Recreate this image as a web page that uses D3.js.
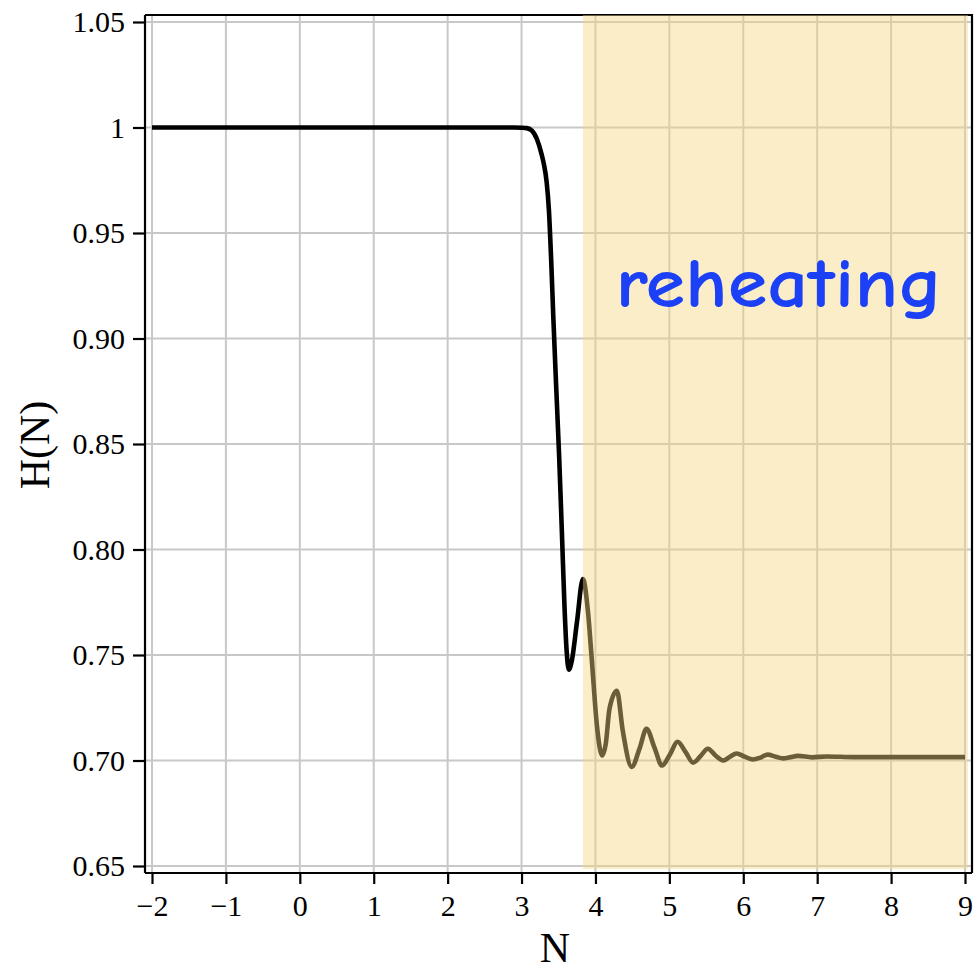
<!DOCTYPE html>
<html>
<head>
	<title>H(N) reheating</title>
	<script type="text/javascript" src="https://cdn.jsdelivr.net/npm/d3@7"></script>
	<style type="text/css">
		body { margin: 0; background: white; }
		.chart text { font-family: "Liberation Serif", "Times New Roman", serif; }
	</style>
</head>
<body>

	<svg width=977 height=971 class="chart"></svg>

	<script type="text/javascript">

		// curve
		N_vals = [-2, 2.9, 3.0, 3.07, 3.14, 3.21, 3.27, 3.30, 3.34, 3.37, 3.40, 3.43, 3.47, 3.51, 3.55, 3.58, 3.61, 3.64,
			3.68, 3.75, 3.83, 3.90, 3.95, 4.02, 4.09, 4.14, 4.19, 4.29, 4.37, 4.49, 4.60, 4.69, 4.80, 4.90,
			5.01, 5.11, 5.22, 5.32, 5.42, 5.52, 5.62, 5.73, 5.82, 5.91, 6.02, 6.13, 6.24, 6.33, 6.44, 6.54,
			6.63, 6.74, 6.93, 7.13, 7.5, 8, 9]
		H_vals = [1, 1, 0.9999, 0.9997, 0.9985, 0.9943, 0.9875, 0.983, 0.974, 0.961, 0.938, 0.910, 0.876, 0.843, 0.804, 0.774, 0.752, 0.743,
			0.7473, 0.7657, 0.786, 0.770, 0.748, 0.7165, 0.7023, 0.708, 0.7245, 0.733, 0.714, 0.697, 0.706, 0.715, 0.706, 0.6976,
			0.703, 0.7089, 0.704, 0.699, 0.702, 0.7056, 0.7025, 0.700, 0.7018, 0.7033, 0.7018, 0.7005, 0.7015, 0.7028, 0.7018, 0.701,
			0.7015, 0.7022, 0.7015, 0.7019, 0.7016, 0.7016, 0.7016]

		x_ticks = [-2, -1, 0, 1, 2, 3, 4, 5, 6, 7, 8, 9]
		x_tick_labels = ['\u22122', '\u22121', '0', '1', '2', '3', '4', '5', '6', '7', '8', '9']
		y_ticks = [0.65, 0.70, 0.75, 0.80, 0.85, 0.90, 0.95, 1.00, 1.05]
		y_tick_labels = ['0.65', '0.70', '0.75', '0.80', '0.85', '0.90', '0.95', '1', '1.05']

		shade_N = [3.83, 9.04]
		shade_H = [0.6486, 1.0533]
		shade_label = 'reheating'

		svg = d3.select('.chart')

		x = d3.scaleLinear().domain([-2, 9]).range([152, 965])
		y = d3.scaleLinear().domain([0.65, 1.05]).range([866, 22])

		frame = {left: 145, right: 972, top: 15, bottom: 873}

		// grid
		var grid = svg.append('g')
		grid.selectAll('.vg')
			.data(x_ticks).enter()
			.append('line')
			.attr('x1', d => x(d)).attr('x2', d => x(d))
			.attr('y1', frame.top).attr('y2', frame.bottom)
			.attr('stroke', '#c8c8c8').attr('stroke-width', 2)
		grid.selectAll('.hg')
			.data(y_ticks).enter()
			.append('line')
			.attr('y1', d => y(d)).attr('y2', d => y(d))
			.attr('x1', frame.left).attr('x2', frame.right)
			.attr('stroke', '#c8c8c8').attr('stroke-width', 2)

		// frame top + right
		svg.append('path')
			.attr('d', 'M' + frame.left + ',' + frame.top + 'H' + frame.right + 'V' + frame.bottom)
			.attr('fill', 'none').attr('stroke', 'black').attr('stroke-width', 2.2)

		// the curve
		var line = d3.line()
			.x(d => x(d[0]))
			.y(d => y(d[1]))
			.curve(d3.curveMonotoneX)

		svg.append('path')
			.datum(d3.zip(N_vals, H_vals))
			.attr('d', line)
			.attr('fill', 'none')
			.attr('stroke', 'black')
			.attr('stroke-width', 4.6)
			.attr('stroke-linejoin', 'round')

		// reheating band, drawn on top
		svg.append('rect')
			.attr('x', x(shade_N[0]))
			.attr('width', x(shade_N[1]) - x(shade_N[0]))
			.attr('y', y(shade_H[1]))
			.attr('height', y(shade_H[0]) - y(shade_H[1]))
			.attr('fill', 'rgb(246,214,129)')
			.attr('fill-opacity', 0.435)

		svg.append('text')
			.attr('x', x(4.27))
			.attr('y', y(0.915))
			.attr('textLength', 327)
			.attr('lengthAdjust', 'spacingAndGlyphs')
			.style('font-family', '"Comic Sans MS", "Comic Neue", Lato, sans-serif')
			.style('font-size', '70px')
			.style('font-weight', 'bold')
			.attr('fill', '#1b40f5')
			.text(shade_label)

		// axes
		var xAxis = d3.axisBottom(x)
			.tickValues(x_ticks)
			.tickFormat((d, i) => x_tick_labels[i])
			.tickSize(11).tickSizeOuter(0).tickPadding(9)
		var gx = svg.append('g')
			.attr('transform', 'translate(0,' + frame.bottom + ')')
			.call(xAxis)
		gx.select('.domain').attr('d', 'M' + frame.left + ',0H' + frame.right)

		var yAxis = d3.axisLeft(y)
			.tickValues(y_ticks)
			.tickFormat((d, i) => y_tick_labels[i])
			.tickSize(12).tickSizeOuter(0).tickPadding(8)
		var gy = svg.append('g')
			.attr('transform', 'translate(' + frame.left + ',0)')
			.call(yAxis)
		gy.select('.domain').attr('d', 'M0,' + frame.top + 'V' + frame.bottom)

		svg.selectAll('.domain').attr('stroke', 'black').attr('stroke-width', 2.2)
		svg.selectAll('.tick line').attr('stroke', 'black').attr('stroke-width', 2.2)
		svg.selectAll('.tick text')
			.attr('fill', 'black')
			.style('font-family', '"Liberation Serif", "Times New Roman", serif')
			.style('font-size', '30px')
		gx.selectAll('.tick text').attr('dy', '0.78em')

		// axis titles
		svg.append('text')
			.attr('x', 555).attr('y', 962)
			.attr('text-anchor', 'middle')
			.style('font-size', '42px')
			.text('N')

		svg.append('text')
			.attr('transform', 'translate(49,445) rotate(-90)')
			.attr('text-anchor', 'middle')
			.style('font-size', '42px')
			.text('H(N)')

	</script>

</body>
</html>
